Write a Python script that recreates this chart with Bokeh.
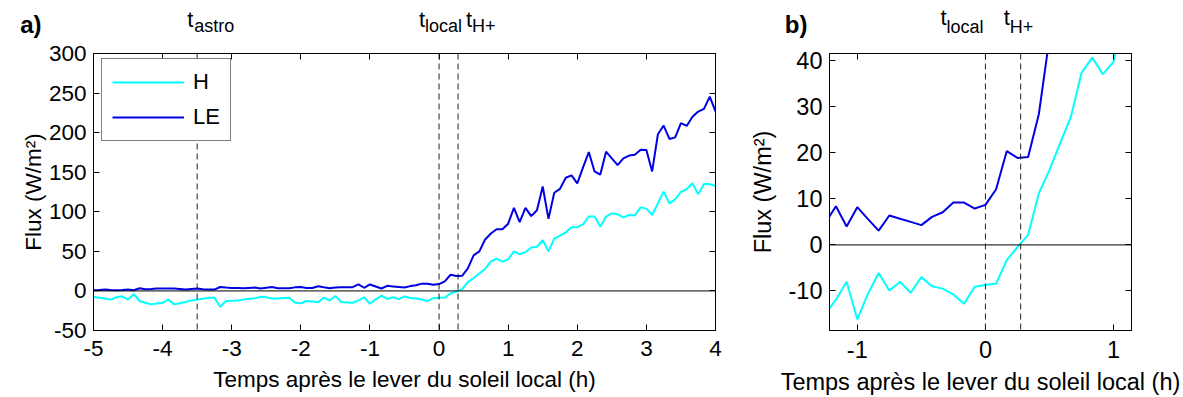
import numpy as np
from bokeh.plotting import figure
from bokeh.models import (Range1d, LinearAxis, Span, Legend, LegendItem, FixedTicker,
                          CustomJSTickFormatter)
from bokeh.layouts import row, column
from bokeh.core.properties import value
from bokeh.embed import file_html
from bokeh.resources import INLINE

# ---------------- data ----------------
# time after local sunrise, 5-minute samples (minutes -> hours)
t_minutes = np.arange(-300, 245, 5)
t_hours = t_minutes / 60.0

H_flux = [
    -7.6, -8.5, -9.5, -11, -8,
    -6.8, -11, -4.2, -12.7, -15,
    -17, -16, -15, -11, -17,
    -15.5, -14, -12, -11, -10,
    -8.5, -8.5, -20, -12.7, -12.5,
    -12, -11, -10, -9.3, -7.5,
    -8, -9.7, -9.7, -9, -8.5,
    -15, -15.5, -12.7, -13.5, -14.3,
    -8.4, -12.2, -6.3, -14, -14.5,
    -15, -11.9, -8.0, -16.2, -10.6,
    -6.1, -9.9, -8.0, -10.4, -7.0,
    -9.0, -9.5, -10.8, -12.8, -9.1,
    -8.7, -8.4, -3.3, -0.5, 2.2,
    11.2, 16.3, 22.1, 27.8, 37.4,
    40.7, 37.1, 39.8, 50, 46.5,
    49, 55, 55.8, 64, 50,
    66, 70, 74, 80.6, 80.6,
    84, 94, 94, 81, 94,
    98, 97, 93, 96, 95.5,
    105.6, 104, 96, 110.6, 125.5,
    110.6, 115.7, 125, 128.7, 136,
    122, 135, 135, 132.5,
]

LE_flux = [
    0.8, 1.2, 1.7, 1.2, 0.8,
    1.2, 1.7, 0.8, 3.4, 2.1,
    2.5, 3.0, 3.0, 3.0, 3.2,
    2.5, 1.7, 2.5, 3.0, 2.2,
    1.7, 1.7, 5.0, 4.2, 3.8,
    3.6, 3.4, 3.8, 4.2, 3.0,
    4.0, 5.0, 3.4, 3.4, 3.4,
    4.5, 5.0, 3.8, 3.8, 5.9,
    4.6, 3.4, 4.2, 4.6, 4.6,
    4.8, 8.4, 4.0, 8.2, 5.6,
    3.1, 6.4, 5.7, 5.0, 4.3,
    6.1, 7.1, 9.2, 9.2, 7.9,
    8.7, 12.1, 20.4, 18.9, 19.1,
    28.4, 45, 50, 65, 72.6,
    78, 78, 85, 105, 87,
    105, 94.5, 102, 132, 91,
    124, 129, 143, 146, 136,
    156, 175.5, 151, 147, 176,
    167.5, 159, 167.5, 171, 172,
    178.5, 178, 151, 198, 209,
    192, 194, 212, 208.5, 220,
    226.6, 230, 245.6, 227,
]

t_astro = -3.5
t_local = 0.0
t_Hplus = 0.275

series_names = ["H", "LE"]
series_colors = ["#00FFFF", "#0000E6"]

xticks_a = [-5, -4, -3, -2, -1, 0, 1, 2, 3, 4]
yticks_a = [-50, 0, 50, 100, 150, 200, 250, 300]
xticks_b = [-1, 0, 1]
yticks_b = [-10, 0, 10, 20, 30, 40]

FONT = "Liberation Sans"
SIZE_A = "22.5px"
SIZE_B = "23.5px"
T_SIZE = "22px"
SUB_SIZE = "18px"
XLABEL = "Temps après le lever du soleil local (h)"
YLABEL = "Flux (W/m²)"

STRIP_H = 40          # height of the text strip above each panel
STRIP_TOP = 8
FIG_H = 397 - STRIP_H
TOP_B, BOT_B = 13, 67


def style_axes(p, xticks, yticks, size, ylab_standoff, ytick_standoff):
    p.xaxis.ticker = FixedTicker(ticks=xticks)
    p.yaxis.ticker = FixedTicker(ticks=yticks)
    for ax in (p.xaxis[0], p.yaxis[0]):
        ax.formatter = CustomJSTickFormatter(code="return String(tick)")
        ax.major_tick_in = 6
        ax.major_tick_out = 0
        ax.minor_tick_line_color = None
        ax.axis_line_color = "black"
        ax.major_tick_line_color = "black"
        ax.major_label_text_font = FONT
        ax.major_label_text_font_size = size
        ax.major_label_text_color = "black"
        ax.axis_label_text_font = FONT
        ax.axis_label_text_font_size = size
        ax.axis_label_text_font_style = "normal"
        ax.axis_label_text_color = "black"
    p.xaxis.axis_label = XLABEL
    p.yaxis.axis_label = YLABEL
    p.xaxis.major_label_standoff = 10
    p.xaxis.axis_label_standoff = 8
    p.yaxis.major_label_standoff = ytick_standoff
    p.yaxis.axis_label_standoff = ylab_standoff
    # top and right tick-only axes (labels not drawn)
    for ticks, side in ((xticks, "above"), (yticks, "right")):
        ax = LinearAxis(ticker=FixedTicker(ticks=ticks), major_tick_in=6, major_tick_out=0,
                        minor_tick_line_color=None, major_label_text_font_size="1px",
                        major_label_text_color=None, major_label_standoff=0,
                        axis_line_color="black")
        p.add_layout(ax, side)
    p.xgrid.grid_line_color = None
    p.ygrid.grid_line_color = None
    p.outline_line_color = "black"


def make_strip(main, width, panel_tag, tag_standoff):
    """Text strip above a panel; its frame lines up with the panel's frame."""
    s = figure(width=width, height=STRIP_H, output_backend="svg", toolbar_location=None,
               title=None,
               x_range=main.x_range, y_range=Range1d(STRIP_H, STRIP_TOP),
               min_border_left=main.min_border_left, min_border_right=main.min_border_right,
               min_border_top=STRIP_TOP, min_border_bottom=0)
    s.xaxis.visible = False
    s.grid.grid_line_color = None
    s.outline_line_color = None
    yax = s.yaxis[0]
    yax.major_tick_line_color = None
    yax.minor_tick_line_color = None
    yax.axis_line_color = None
    yax.major_label_text_font_size = "1px"
    yax.major_label_text_color = None
    yax.major_label_standoff = 0
    yax.axis_label = panel_tag
    yax.axis_label_orientation = "horizontal"
    yax.axis_label_text_font = FONT
    yax.axis_label_text_font_size = "24px"
    yax.axis_label_text_font_style = "bold"
    yax.axis_label_text_color = "black"
    yax.axis_label_standoff = tag_standoff
    return s


def strip_text(s, xs, ys, texts, size):
    s.text(x=xs, y=ys, text=texts, text_font=value(FONT), text_font_size=value(size),
           text_color="black", text_align="left", text_baseline="alphabetic")


# ---------------- panel a ----------------
WA, LA, RA = 740, 93, 25
pa = figure(width=WA, height=FIG_H, output_backend="svg", toolbar_location=None,
            title=None,
            x_range=Range1d(-5, 4), y_range=Range1d(-50, 300),
            min_border_left=LA, min_border_right=RA, min_border_top=TOP_B,
            min_border_bottom=BOT_B,
            background_fill_color="white", border_fill_color="white")
style_axes(pa, xticks_a, yticks_a, SIZE_A, ylab_standoff=0, ytick_standoff=7)

pa.add_layout(Span(location=0, dimension="width", line_color="black", line_width=1))
for loc in (t_astro, t_local, t_Hplus):
    pa.add_layout(Span(location=loc, dimension="height", line_color="#222222",
                       line_width=1, line_dash="6 4"))

rH = pa.line(t_hours, H_flux, line_color=series_colors[0], line_width=2)
rLE = pa.line(t_hours, LE_flux, line_color=series_colors[1], line_width=2)

legend = Legend(items=[LegendItem(label=series_names[0], renderers=[rH]),
                       LegendItem(label=series_names[1], renderers=[rLE])],
                location=(8, 189), orientation="vertical",
                border_line_color="black", border_line_width=1, background_fill_color="white",
                background_fill_alpha=1, label_text_font=FONT, label_text_font_size="22px",
                label_text_line_height=1.0,
                label_text_color="black", glyph_width=72, glyph_height=22, label_height=22,
                label_standoff=9, spacing=9, padding=10, margin=0)
pa.add_layout(legend, "center")

ka = 9.0 / (WA - LA - RA)          # hours per pixel in panel a
sa = make_strip(pa, WA, "a)", 46)
# left edge of each text piece relative to its marker line (px); vertical text position (px)
strip_text(sa, [t_astro - 10 * ka, t_local - 20 * ka, t_Hplus + 8 * ka],
           [19, 19, 19], ["t", "t", "t"], T_SIZE)
strip_text(sa, [t_astro - 3 * ka, t_local - 14 * ka, t_Hplus + 14 * ka],
           [25, 25, 25], ["astro", "local", "H+"], SUB_SIZE)

# ---------------- panel b ----------------
WB, LB, RB = 443, 89, 52
xb0, xb1 = -1.217, 1.14
pb = figure(width=WB, height=FIG_H, output_backend="svg", toolbar_location=None,
            title=None,
            x_range=Range1d(xb0, xb1), y_range=Range1d(-18.6, 41.6),
            min_border_left=LB, min_border_right=RB, min_border_top=TOP_B,
            min_border_bottom=BOT_B,
            background_fill_color="white", border_fill_color="white")
style_axes(pb, xticks_b, yticks_b, SIZE_B, ylab_standoff=10, ytick_standoff=7)

pb.add_layout(Span(location=0, dimension="width", line_color="black", line_width=1))
for loc in (t_local, t_Hplus):
    pb.add_layout(Span(location=loc, dimension="height", line_color="#222222",
                       line_width=1, line_dash="6 4"))

pb.line(t_hours, H_flux, line_color=series_colors[0], line_width=2)
pb.line(t_hours, LE_flux, line_color=series_colors[1], line_width=2)

kb = (xb1 - xb0) / (WB - LB - RB)
sb = make_strip(pb, WB, "b)", 16)
strip_text(sb, [t_local - 45 * kb, t_Hplus - 17 * kb], [17, 17], ["t", "t"], T_SIZE)
strip_text(sb, [t_local - 39 * kb, t_Hplus - 11 * kb], [26, 26], ["local", "H+"], SUB_SIZE)

layout = row(column(sa, pa), column(sb, pb))
open("out.html", "w").write(file_html(layout, INLINE))
